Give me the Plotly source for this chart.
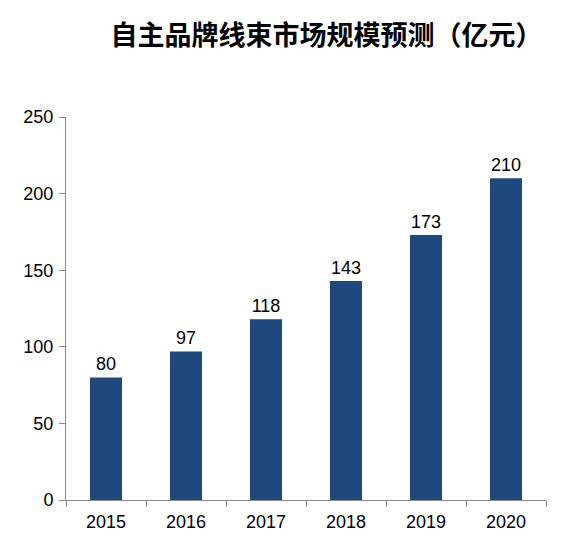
import plotly.graph_objects as go

years = ["2015", "2016", "2017", "2018", "2019", "2020"]
market_size = [80, 97, 118, 143, 173, 210]
y_ticks = [0, 50, 100, 150, 200, 250]

fig = go.Figure(go.Bar(
    x=years,
    y=market_size,
    text=market_size,
    textposition="outside",
    textfont=dict(size=18, color="#000000", family="Arial, Liberation Sans"),
    marker=dict(color="#1F497D", line=dict(width=0)),
    cliponaxis=False,
))

# page body has an 8px default margin, so the figure is a bit smaller than the window
fig.update_layout(
    width=576, height=542,
    title=dict(text="<b>自主品牌线束市场规模预测（亿元）</b>", x=0.553, xanchor="center",
               y=0.95, yanchor="middle",
               font=dict(size=27, color="#000000", family="Noto Sans CJK SC")),
    margin=dict(l=58, r=38, t=109, b=50),
    bargap=0.6,
    plot_bgcolor="white", paper_bgcolor="white",
    showlegend=False,
    font=dict(family="Arial, Liberation Sans", size=18, color="#000000"),
)
fig.update_xaxes(
    showline=True, linecolor="#888888", linewidth=1,
    ticks="outside", tickson="boundaries", ticklen=6, tickcolor="#888888",
    ticklabelstandoff=5,
    tickfont=dict(size=18, color="#000000"),
)
fig.update_yaxes(
    range=[0, 250], tickvals=y_ticks,
    showline=True, linecolor="#888888", linewidth=1,
    ticks="outside", ticklen=6, tickcolor="#888888",
    ticklabelstandoff=2,
    showgrid=False, zeroline=False,
    tickfont=dict(size=18, color="#000000"),
)

fig.write_html("out.html")
